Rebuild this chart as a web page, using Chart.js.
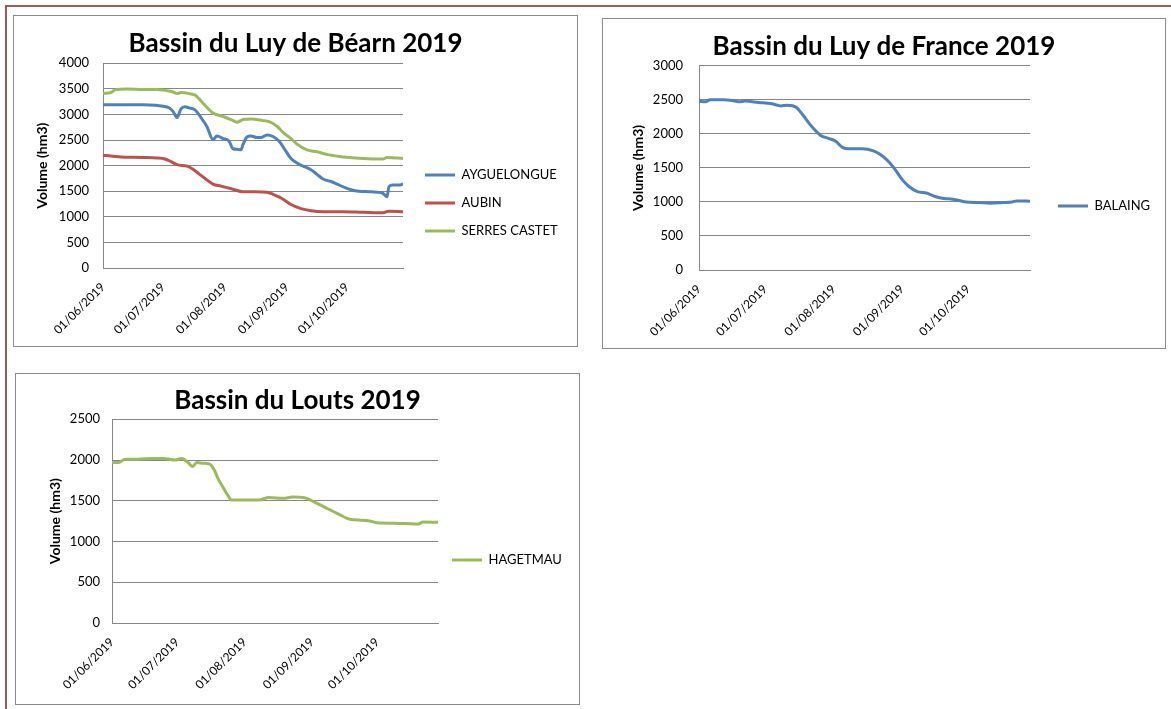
<!DOCTYPE html>
<html>
<head>
<meta charset="utf-8">
<script src="https://cdn.jsdelivr.net/npm/chart.js@4.4.1/dist/chart.umd.min.js"></script>
<style>
  html, body { margin: 0; padding: 0; background: #fff; }
  body { width: 1171px; height: 709px; position: relative; overflow: hidden; }
  .frame { position: absolute; left: 5px; top: 5px; width: 1300px; height: 800px;
           border-left: 2px solid #9e5a58; border-top: 2px solid #9e5a58; }
  .panel { position: absolute; box-sizing: border-box; border: 1px solid #8a8a8a; }
  canvas { position: absolute; }
</style>
</head>
<body>
<div class="frame"></div>
<div class="panel" style="left:13px;top:15px;width:565px;height:332px"></div>
<div class="panel" style="left:602px;top:18px;width:564px;height:331px"></div>
<div class="panel" style="left:15px;top:373px;width:565px;height:332px"></div>
<canvas id="bearn" width="565" height="332" style="left:13px;top:15px"></canvas>
<canvas id="france" width="564" height="331" style="left:602px;top:18px"></canvas>
<canvas id="louts" width="565" height="332" style="left:15px;top:373px"></canvas>
<script>
// days counted from 01/06/2019
const tickDays = [0, 30, 61, 92, 122];
const tickLabels = ['01/06/2019', '01/07/2019', '01/08/2019', '01/09/2019', '01/10/2019'];

// Bassin du Luy de Béarn
const ayguelongueDays = [0, 10, 20, 26, 30, 33, 35, 37, 39, 41, 43, 46, 49, 52, 55, 57, 60, 63, 65, 67, 69, 70, 72, 74, 77, 79, 82, 85, 88, 91, 94, 97, 100, 104, 107, 110, 114, 117, 121, 124, 128, 133, 137, 140, 142, 143, 145, 148, 150];
const ayguelongue = [3190, 3190, 3190, 3180, 3160, 3130, 3060, 2940, 3110, 3150, 3130, 3090, 2940, 2760, 2510, 2580, 2530, 2480, 2330, 2320, 2310, 2410, 2560, 2580, 2550, 2550, 2600, 2570, 2480, 2310, 2140, 2050, 1990, 1920, 1830, 1740, 1690, 1640, 1570, 1530, 1500, 1490, 1480, 1460, 1390, 1590, 1620, 1620, 1640];
const aubinDays = [0, 4, 9, 19, 27, 31, 34, 37, 42, 45, 48, 51, 55, 59, 65, 70, 76, 82, 85, 88, 91, 94, 99, 104, 110, 120, 130, 140, 143, 150];
const aubin = [2200, 2190, 2170, 2160, 2150, 2130, 2080, 2020, 1990, 1930, 1840, 1750, 1640, 1600, 1540, 1490, 1490, 1480, 1440, 1390, 1320, 1240, 1160, 1120, 1100, 1100, 1090, 1080, 1110, 1100];
const serresCastetDays = [0, 4, 6, 12, 20, 27, 33, 35, 37, 39, 44, 46, 50, 55, 60, 64, 67, 70, 74, 80, 83, 87, 90, 94, 97, 102, 107, 113, 120, 130, 140, 142, 150];
const serresCastet = [3410, 3430, 3480, 3500, 3490, 3490, 3460, 3440, 3410, 3430, 3400, 3380, 3220, 3030, 2960, 2900, 2850, 2900, 2910, 2880, 2860, 2770, 2650, 2530, 2420, 2310, 2270, 2210, 2170, 2140, 2130, 2160, 2140];

// Bassin du Luy de France
const balaingDays = [0, 3, 5, 11, 15, 18, 21, 27, 33, 37, 40, 44, 47, 51, 55, 59, 62, 65, 68, 74, 79, 82, 86, 89, 92, 95, 99, 103, 107, 111, 115, 121, 127, 132, 138, 142, 144, 150];
const balaing = [2480, 2470, 2500, 2500, 2490, 2470, 2480, 2460, 2440, 2410, 2420, 2390, 2280, 2110, 1980, 1930, 1890, 1800, 1780, 1780, 1750, 1700, 1590, 1470, 1330, 1230, 1150, 1130, 1080, 1050, 1040, 1000, 990, 980, 990, 1000, 1015, 1010];

// Bassin du Louts
const hagetmauDays = [0, 3, 6, 12, 18, 24, 29, 32, 35, 37, 39, 42, 45, 47, 49, 51, 53, 55, 61, 68, 72, 79, 83, 89, 92, 98, 104, 110, 113, 119, 122, 130, 141, 143, 150];
const hagetmau = [1970, 1970, 2010, 2010, 2020, 2020, 2000, 2020, 1970, 1920, 1970, 1960, 1950, 1880, 1760, 1670, 1580, 1510, 1510, 1510, 1540, 1530, 1545, 1535, 1500, 1420, 1340, 1270, 1265, 1250, 1230, 1225, 1215, 1240, 1235];

const BLUE = '#4F81BD';
const RED = '#C0504D';
const GREEN = '#9BBB59';
const FONT = 'Lato, "Open Sans", sans-serif';
const GRID = '#868686';

// title centred on the whole panel, legend put at a fixed spot of the canvas
const boxPlacer = {
  id: 'boxPlacer',
  afterLayout(chart, args, opts) {
    const tb = chart.titleBlock;
    if (tb) {
      tb.left = 0;
      tb.right = chart.width;
      tb.width = chart.width;
    }
    const lg = chart.legend;
    if (lg) {
      const pad = lg.options.labels.padding;
      const size = lg.options.labels.font.size;
      const w = lg.width, h = lg.height;
      lg.left = opts.x - pad;
      lg.right = lg.left + w;
      lg.top = opts.y - pad - size / 2;
      lg.bottom = lg.top + h;
    }
  }
};

function buildChart(id, title, yMax, series, L) {
  return new Chart(document.getElementById(id), {
    type: 'line',
    data: {
      datasets: series.map(s => ({
        label: s.name,
        data: s.days.map((d, i) => ({x: d, y: s.values[i]})),
        borderColor: s.color,
        backgroundColor: s.color,
        borderWidth: 3,
        pointRadius: 0,
        cubicInterpolationMode: 'monotone',
        fill: false
      }))
    },
    plugins: [boxPlacer],
    options: {
      responsive: false,
      animation: false,
      layout: { padding: { left: 0, top: 0, right: L.padRight, bottom: 0 } },
      plugins: {
        title: {
          display: true,
          text: title,
          color: '#000',
          font: { family: FONT, size: 26, weight: 'bold' },
          padding: { top: L.titleTop, bottom: L.titleBottom }
        },
        legend: {
          position: 'chartArea',
          align: 'start',
          labels: {
            usePointStyle: true,
            pointStyle: 'line',
            pointStyleWidth: 30,
            padding: 15,
            color: '#000',
            font: { family: FONT, size: 13 }
          }
        },
        boxPlacer: { x: L.legendX, y: L.legendY },
        tooltip: { enabled: false }
      },
      scales: {
        x: {
          type: 'linear',
          min: 0,
          max: 150,
          grid: { display: false },
          border: { color: GRID },
          afterBuildTicks: s => { s.ticks = tickDays.map(v => ({ value: v })); },
          afterFit: s => { s.height = L.xAxisHeight; },
          ticks: {
            autoSkip: false,
            minRotation: 45,
            maxRotation: 45,
            padding: 4,
            color: '#000',
            font: { family: FONT, size: 12 },
            callback: v => tickLabels[tickDays.indexOf(v)]
          }
        },
        y: {
          min: 0,
          max: yMax,
          ticks: {
            stepSize: 500,
            padding: L.tickPad,
            color: '#000',
            font: { family: FONT, size: 13 },
            callback: v => String(v)
          },
          grid: { color: GRID, drawTicks: false },
          border: { color: GRID },
          title: {
            display: true,
            text: 'Volume (hm3)',
            color: '#000',
            font: { family: FONT, size: 14, weight: 'bold' },
            padding: { top: L.yTitlePad, bottom: 0 }
          },
          afterFit: s => { s.width = L.yAxisWidth; }
        }
      }
    }
  });
}

buildChart('bearn', 'Bassin du Luy de Béarn 2019', 4000, [
  { name: 'AYGUELONGUE', days: ayguelongueDays, values: ayguelongue, color: BLUE },
  { name: 'AUBIN', days: aubinDays, values: aubin, color: RED },
  { name: 'SERRES CASTET', days: serresCastetDays, values: serresCastet, color: GREEN }
], { yAxisWidth: 90, yTitlePad: 21, tickPad: 14, padRight: 175, titleTop: 12.6, titleBottom: 4.5,
     xAxisHeight: 79, legendX: 412, legendY: 160 });

buildChart('france', 'Bassin du Luy de France 2019', 3000, [
  { name: 'BALAING', days: balaingDays, values: balaing, color: BLUE }
], { yAxisWidth: 97, yTitlePad: 27.6, tickPad: 16, padRight: 136, titleTop: 12.6, titleBottom: 3.9,
     xAxisHeight: 79, legendX: 456, legendY: 188 });

buildChart('louts', 'Bassin du Louts 2019', 2500, [
  { name: 'HAGETMAU', days: hagetmauDays, values: hagetmau, color: GREEN }
], { yAxisWidth: 97, yTitlePad: 31.6, tickPad: 12, padRight: 142, titleTop: 11.6, titleBottom: 3.5,
     xAxisHeight: 82, legendX: 437, legendY: 187 });
</script>
</body>
</html>
